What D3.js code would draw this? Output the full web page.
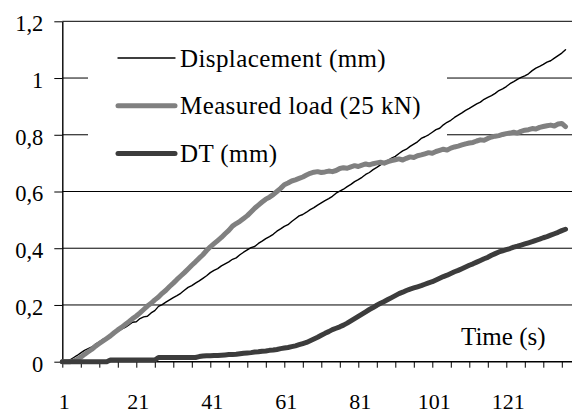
<!DOCTYPE html>
<html>
<head>
<meta charset="utf-8">
<script src="https://cdn.jsdelivr.net/npm/d3@7/dist/d3.min.js"></script>
<style>
  html, body { margin: 0; padding: 0; background: #fff; }
  svg { display: block; }
  text { font-family: "Liberation Serif", "Times New Roman", serif; fill: #000; }
</style>
</head>
<body>
<svg id="chart" width="572" height="415"></svg>
<script>
// Time steps (s) and the three recorded channels
const seriesNames = ["Displacement (mm)", "Measured load (25 kN)", "DT (mm)"];
const yTicks = [0, 0.2, 0.4, 0.6, 0.8, 1, 1.2];
const xLabelEvery = 20;
const xTickEvery = 5;
const axisTitle = "Time (s)";

const displacement = [
  0.000, 0.000, 0.006, 0.014, 0.022, 0.031, 0.040, 0.046, 0.052, 0.062,
  0.070, 0.079, 0.083, 0.090, 0.100, 0.107, 0.115, 0.121, 0.130, 0.139,
  0.141, 0.152, 0.158, 0.160, 0.172, 0.180, 0.195, 0.201, 0.210, 0.218,
  0.226, 0.233, 0.241, 0.252, 0.262, 0.268, 0.277, 0.285, 0.294, 0.303,
  0.314, 0.322, 0.328, 0.338, 0.345, 0.352, 0.361, 0.366, 0.377, 0.386,
  0.394, 0.402, 0.406, 0.417, 0.425, 0.434, 0.441, 0.449, 0.460, 0.468,
  0.477, 0.483, 0.494, 0.504, 0.514, 0.519, 0.527, 0.536, 0.543, 0.552,
  0.560, 0.568, 0.575, 0.583, 0.594, 0.601, 0.608, 0.617, 0.625, 0.635,
  0.642, 0.650, 0.660, 0.667, 0.677, 0.685, 0.694, 0.701, 0.709, 0.718,
  0.724, 0.734, 0.743, 0.749, 0.759, 0.767, 0.775, 0.787, 0.793, 0.800,
  0.809, 0.818, 0.823, 0.835, 0.844, 0.851, 0.861, 0.869, 0.877, 0.886,
  0.893, 0.901, 0.909, 0.915, 0.925, 0.932, 0.938, 0.946, 0.956, 0.962,
  0.970, 0.980, 0.987, 0.995, 1.002, 1.008, 1.015, 1.026, 1.035, 1.041,
  1.048, 1.056, 1.061, 1.070, 1.079, 1.088, 1.100
];

const measuredLoad = [
  0.000, 0.000, 0.000, 0.002, 0.008, 0.016, 0.026, 0.035, 0.044, 0.055,
  0.064, 0.073, 0.082, 0.091, 0.102, 0.112, 0.121, 0.131, 0.141, 0.152,
  0.161, 0.172, 0.184, 0.196, 0.206, 0.218, 0.228, 0.241, 0.252, 0.265,
  0.277, 0.290, 0.302, 0.314, 0.327, 0.340, 0.352, 0.365, 0.377, 0.392,
  0.405, 0.416, 0.427, 0.438, 0.451, 0.463, 0.478, 0.487, 0.495, 0.505,
  0.515, 0.528, 0.541, 0.552, 0.563, 0.573, 0.580, 0.589, 0.600, 0.611,
  0.624, 0.630, 0.637, 0.641, 0.646, 0.651, 0.658, 0.664, 0.668, 0.670,
  0.667, 0.669, 0.672, 0.670, 0.674, 0.681, 0.684, 0.682, 0.687, 0.691,
  0.688, 0.693, 0.697, 0.694, 0.698, 0.701, 0.703, 0.700, 0.705, 0.709,
  0.712, 0.715, 0.711, 0.717, 0.722, 0.720, 0.726, 0.729, 0.733, 0.737,
  0.735, 0.741, 0.745, 0.749, 0.746, 0.753, 0.757, 0.760, 0.764, 0.768,
  0.771, 0.773, 0.778, 0.782, 0.781, 0.787, 0.792, 0.795, 0.797, 0.801,
  0.804, 0.806, 0.809, 0.806, 0.812, 0.816, 0.818, 0.822, 0.820, 0.826,
  0.829, 0.832, 0.834, 0.831, 0.838, 0.840, 0.829
];

const dt = [
  0.000, 0.000, 0.000, 0.000, 0.000, 0.000, 0.000, 0.000, 0.000, 0.000,
  0.000, 0.000, 0.000, 0.006, 0.006, 0.006, 0.006, 0.006, 0.006, 0.006,
  0.006, 0.006, 0.006, 0.006, 0.006, 0.006, 0.015, 0.015, 0.015, 0.015,
  0.015, 0.015, 0.015, 0.015, 0.015, 0.015, 0.015, 0.018, 0.020, 0.021,
  0.021, 0.022, 0.022, 0.023, 0.024, 0.025, 0.025, 0.026, 0.028, 0.030,
  0.031, 0.032, 0.034, 0.035, 0.037, 0.038, 0.040, 0.041, 0.043, 0.046,
  0.048, 0.050, 0.053, 0.056, 0.060, 0.064, 0.068, 0.074, 0.080, 0.086,
  0.093, 0.100, 0.106, 0.113, 0.118, 0.123, 0.129, 0.136, 0.144, 0.152,
  0.160, 0.168, 0.176, 0.184, 0.191, 0.199, 0.206, 0.212, 0.219, 0.226,
  0.233, 0.240, 0.245, 0.251, 0.256, 0.260, 0.264, 0.268, 0.273, 0.278,
  0.282, 0.288, 0.294, 0.300, 0.305, 0.311, 0.317, 0.322, 0.328, 0.334,
  0.340, 0.345, 0.351, 0.357, 0.363, 0.368, 0.375, 0.381, 0.387, 0.391,
  0.395, 0.399, 0.404, 0.407, 0.411, 0.415, 0.419, 0.423, 0.428, 0.432,
  0.437, 0.441, 0.446, 0.451, 0.456, 0.462, 0.467
];

const steps = d3.range(1, displacement.length + 1);

const svg = d3.select("#chart");
const W = 572;
const x = d3.scaleLinear().domain([1, 136]).range([62.3, 561.8]);
const y = d3.scaleLinear().domain([0, 1.2]).range([361.7, 21.3]);

const locale = d3.formatLocale({ decimal: ",", thousands: ".", grouping: [3], currency: ["", ""] });
const fmt = locale.format(".1~f");

// Horizontal gridlines
svg.append("g").selectAll("line")
  .data(yTicks.filter(v => v > 0))
  .join("line")
  .attr("x1", x(1)).attr("x2", W)
  .attr("y1", d => y(d)).attr("y2", d => y(d))
  .attr("stroke", "#000").attr("stroke-width", 1);

// Legend background
const legend = { x: 88, y: 36, w: 359, h: 142 };
svg.append("rect")
  .attr("x", legend.x).attr("y", legend.y)
  .attr("width", legend.w).attr("height", legend.h)
  .attr("fill", "#fff");

// Axes
const yAxis = d3.axisLeft(y).tickValues(yTicks).tickSize(8).tickSizeOuter(0).tickFormat(fmt);
const gy = svg.append("g").attr("transform", `translate(${x(1)},0)`).call(yAxis);
gy.select(".domain").attr("stroke", "#000").attr("stroke-width", 1.4);
gy.selectAll(".tick line").attr("stroke", "#000").attr("stroke-width", 1);
gy.selectAll(".tick text")
  .attr("x", -19).attr("dy", "0.42em")
  .style("font-size", "22.5px").style("font-family", "Liberation Serif");

const xTickVals = steps.filter(s => (s - 1) % xTickEvery === 0);
const xAxis = d3.axisBottom(x).tickValues(xTickVals).tickSize(6).tickSizeOuter(0)
  .tickFormat(d => ((d - 1) % xLabelEvery === 0 ? String(d) : ""));
const gx = svg.append("g").attr("transform", `translate(0,${y(0)})`).call(xAxis);
gx.select(".domain").attr("d", `M${x(1)},0H${W}`).attr("stroke", "#000").attr("stroke-width", 1.4);
gx.selectAll(".tick line").attr("stroke", "#000").attr("stroke-width", 1);
gx.selectAll(".tick text")
  .attr("y", 47).attr("dy", 0).attr("dx", 1.5)
  .style("font-size", "22px").style("font-family", "Liberation Serif");

svg.append("text")
  .attr("x", 461).attr("y", 345)
  .style("font-size", "25px")
  .text(axisTitle);

// Data lines
const series = [
  { values: displacement, color: "#000", width: 1.4 },
  { values: measuredLoad, color: "#808080", width: 5 },
  { values: dt, color: "#3c3c3c", width: 5 }
];
const line = d3.line().x((d, i) => x(steps[i])).y(d => y(d));
svg.append("g").selectAll("path")
  .data(series)
  .join("path")
  .attr("d", d => line(d.values))
  .attr("fill", "none")
  .attr("stroke", d => d.color)
  .attr("stroke-width", d => d.width)
  .attr("stroke-linejoin", "round")
  .attr("stroke-linecap", "round");

// Legend entries
const lg = svg.append("g").selectAll("g")
  .data(series.map((s, i) => ({ ...s, name: seriesNames[i] })))
  .join("g")
  .attr("transform", (d, i) => `translate(0,${58 + i * 47.7})`);
lg.append("line")
  .attr("x1", 118).attr("x2", 175)
  .attr("stroke", d => d.color)
  .attr("stroke-width", d => d.width)
  .attr("stroke-linecap", "round");
lg.append("text")
  .attr("x", 180).attr("y", 8.5)
  .style("font-size", "25px")
  .style("letter-spacing", "0.4px")
  .text(d => d.name);
</script>
</body>
</html>
